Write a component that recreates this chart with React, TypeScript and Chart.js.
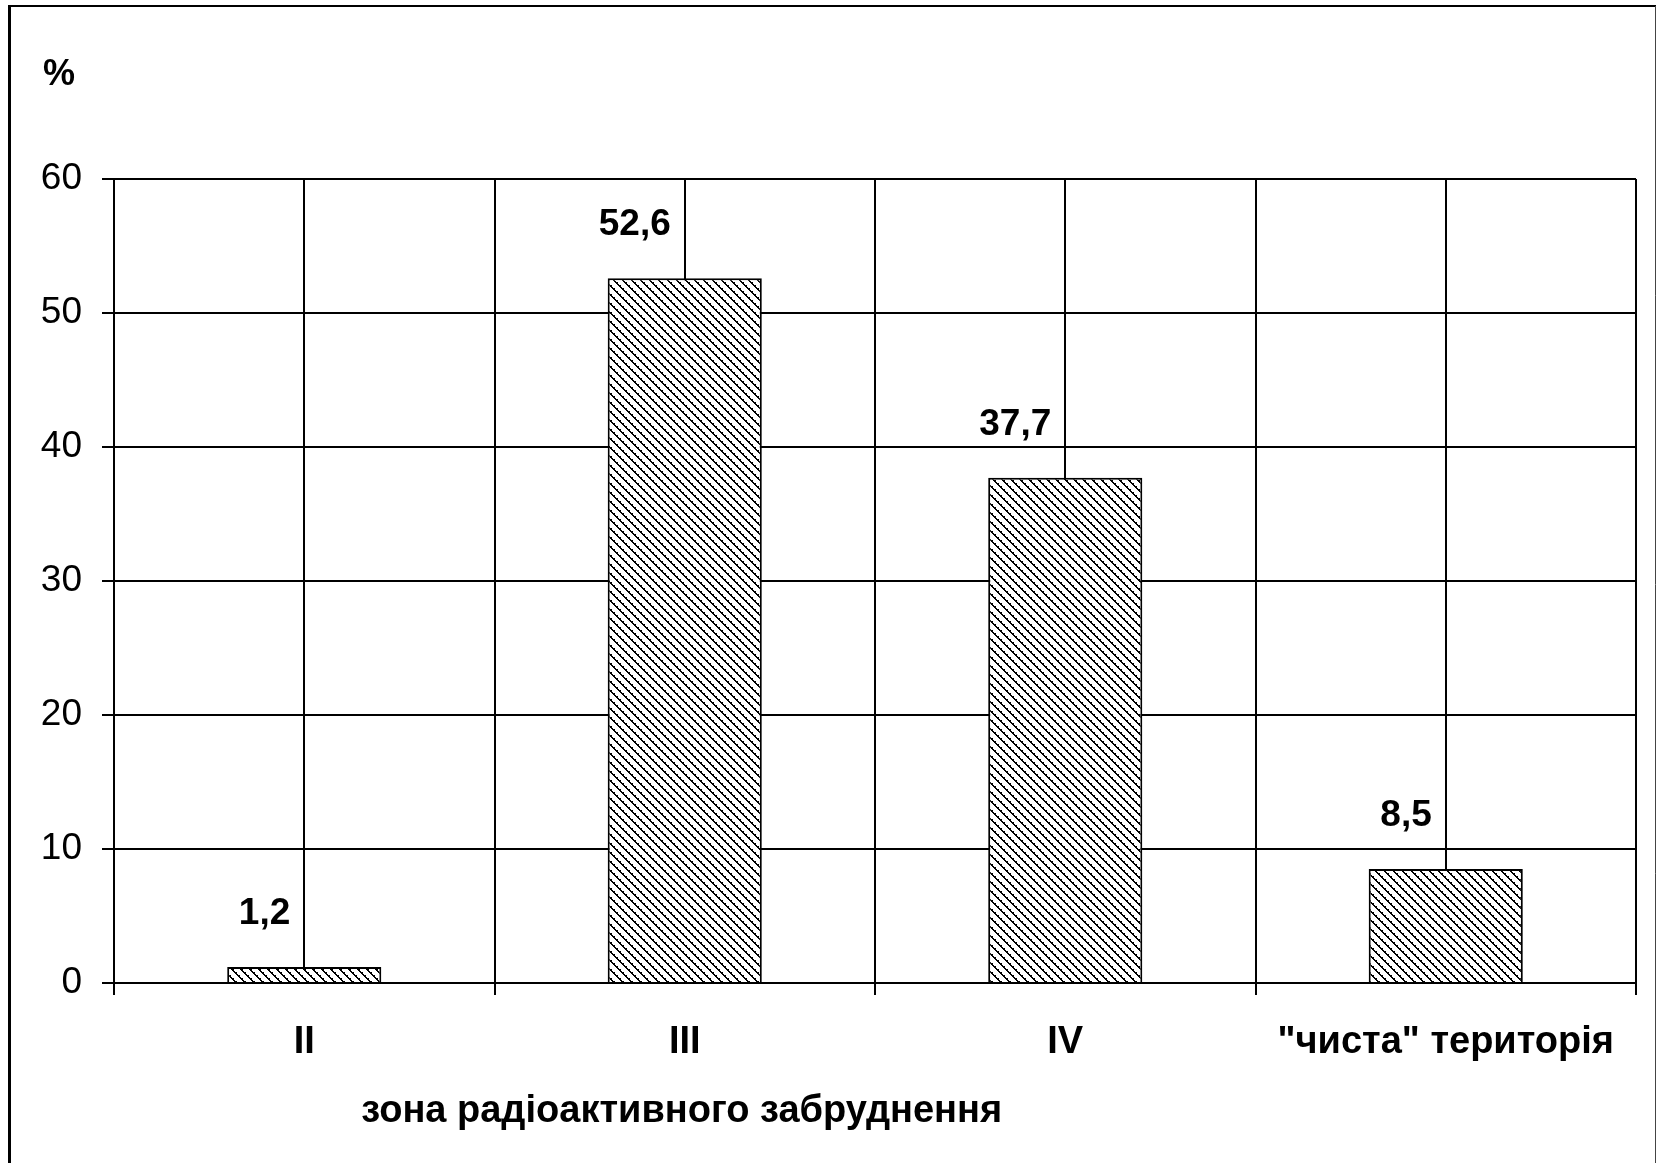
import React, { useEffect, useRef } from "react";
import { Chart, registerables } from "chart.js";

Chart.register(...registerables);

const categories: string[] = ["II", "III", "IV", '"чиста" територія'];
const shares: number[] = [1.2, 52.6, 37.7, 8.5];
const yMin = 0;
const yMax = 60;
const yStep = 10;
const yUnit = "%";
const xTitle = "зона радіоактивного забруднення";

const FONT = '"Liberation Sans", Arial, sans-serif';

function makePattern(): CanvasPattern | string {
  const n = 9;
  const c = document.createElement("canvas");
  c.width = n;
  c.height = n;
  const g = c.getContext("2d");
  if (!g) return "#888";
  g.fillStyle = "#ffffff";
  g.fillRect(0, 0, n, n);
  g.fillStyle = "#000000";
  for (let y = 0; y < n; y++) {
    for (let x = 0; x < n; x++) {
      const d = (((x - y) % n) + n) % n;
      if (d < 2 || (d === 2 && y % 3 === 0)) g.fillRect(x, y, 1, 1);
    }
  }
  const p = g.createPattern(c, "repeat");
  return p || "#888";
}

const decorPlugin = {
  id: "decor",
  beforeDatasetsDraw(chart: any) {
    const { ctx, chartArea } = chart;
    const xs = chart.scales.x;
    ctx.save();
    ctx.strokeStyle = "#000";
    ctx.lineWidth = 2;
    for (let i = 0; i < categories.length; i++) {
      const x = Math.round(xs.getPixelForValue(i));
      ctx.beginPath();
      ctx.moveTo(x, chartArea.top);
      ctx.lineTo(x, chartArea.bottom);
      ctx.stroke();
    }
    ctx.restore();
  },
  afterDraw(chart: any) {
    const { ctx, chartArea } = chart;
    const meta = chart.getDatasetMeta(0);
    ctx.save();
    ctx.fillStyle = "#000";
    ctx.font = `bold 37px ${FONT}`;
    ctx.textAlign = "right";
    ctx.textBaseline = "middle";
    meta.data.forEach((bar: any, i: number) => {
      const label = shares[i].toString().replace(".", ",");
      ctx.fillText(label, bar.x - 14, bar.y - 53);
    });
    // unit label
    ctx.font = `bold 36px ${FONT}`;
    ctx.textAlign = "left";
    ctx.fillText(yUnit, 43, 75);
    // axis title
    ctx.font = `bold 38px ${FONT}`;
    ctx.textAlign = "center";
    const tx = chartArea.left + 0.373 * (chartArea.right - chartArea.left);
    ctx.fillText(xTitle, tx, 1112);
    // outer frame
    ctx.strokeStyle = "#000";
    ctx.lineWidth = 3;
    ctx.beginPath();
    ctx.moveTo(9.5, 1163);
    ctx.lineTo(9.5, 6);
    ctx.stroke();
    ctx.lineWidth = 2;
    ctx.beginPath();
    ctx.moveTo(8, 6);
    ctx.lineTo(1656, 6);
    ctx.stroke();
    ctx.strokeStyle = "#444";
    ctx.lineWidth = 1;
    ctx.beginPath();
    ctx.moveTo(1655.5, 6);
    ctx.lineTo(1655.5, 1163);
    ctx.stroke();
    ctx.restore();
  },
};

export default function App() {
  const ref = useRef<HTMLCanvasElement | null>(null);
  useEffect(() => {
    if (!ref.current) return;
    const pattern = makePattern();
    const chart = new Chart(ref.current, {
      type: "bar",
      data: {
        labels: categories,
        datasets: [
          {
            data: shares,
            backgroundColor: pattern as any,
            borderColor: "#000",
            borderWidth: 2,
            barPercentage: 0.405,
            categoryPercentage: 1,
          },
        ],
      },
      options: {
        responsive: false,
        animation: false,
        devicePixelRatio: 1,
        layout: { padding: { left: 0, top: 179, right: 20, bottom: 0 } },
        plugins: {
          legend: { display: false },
          tooltip: { enabled: false },
          title: { display: false },
        },
        scales: {
          x: {
            type: "category",
            offset: true,
            grid: {
              offset: true,
              color: "#000",
              lineWidth: 2,
              tickLength: 12,
              drawOnChartArea: true,
            },
            border: { display: true, color: "#000", width: 2 },
            ticks: {
              color: "#000",
              padding: 25,
              maxRotation: 0,
              autoSkip: false,
              font: { family: FONT, size: 38, weight: "bold" },
            },
            afterFit: (s: any) => {
              s.height = 180;
            },
          },
          y: {
            min: yMin,
            max: yMax,
            ticks: {
              stepSize: yStep,
              color: "#000",
              padding: 20,
              font: { family: FONT, size: 37 },
            },
            grid: { color: "#000", lineWidth: 2, tickLength: 12 },
            border: { display: true, color: "#000", width: 2 },
            afterFit: (s: any) => {
              s.width = 114;
            },
          },
        },
      },
      plugins: [decorPlugin],
    });
    return () => chart.destroy();
  }, []);
  return (
    <div style={{ position: "absolute", left: 0, top: 0, width: 1656, height: 1163, background: "#fff" }}>
      <canvas ref={ref} width={1656} height={1163} style={{ display: "block" }} />
    </div>
  );
}
